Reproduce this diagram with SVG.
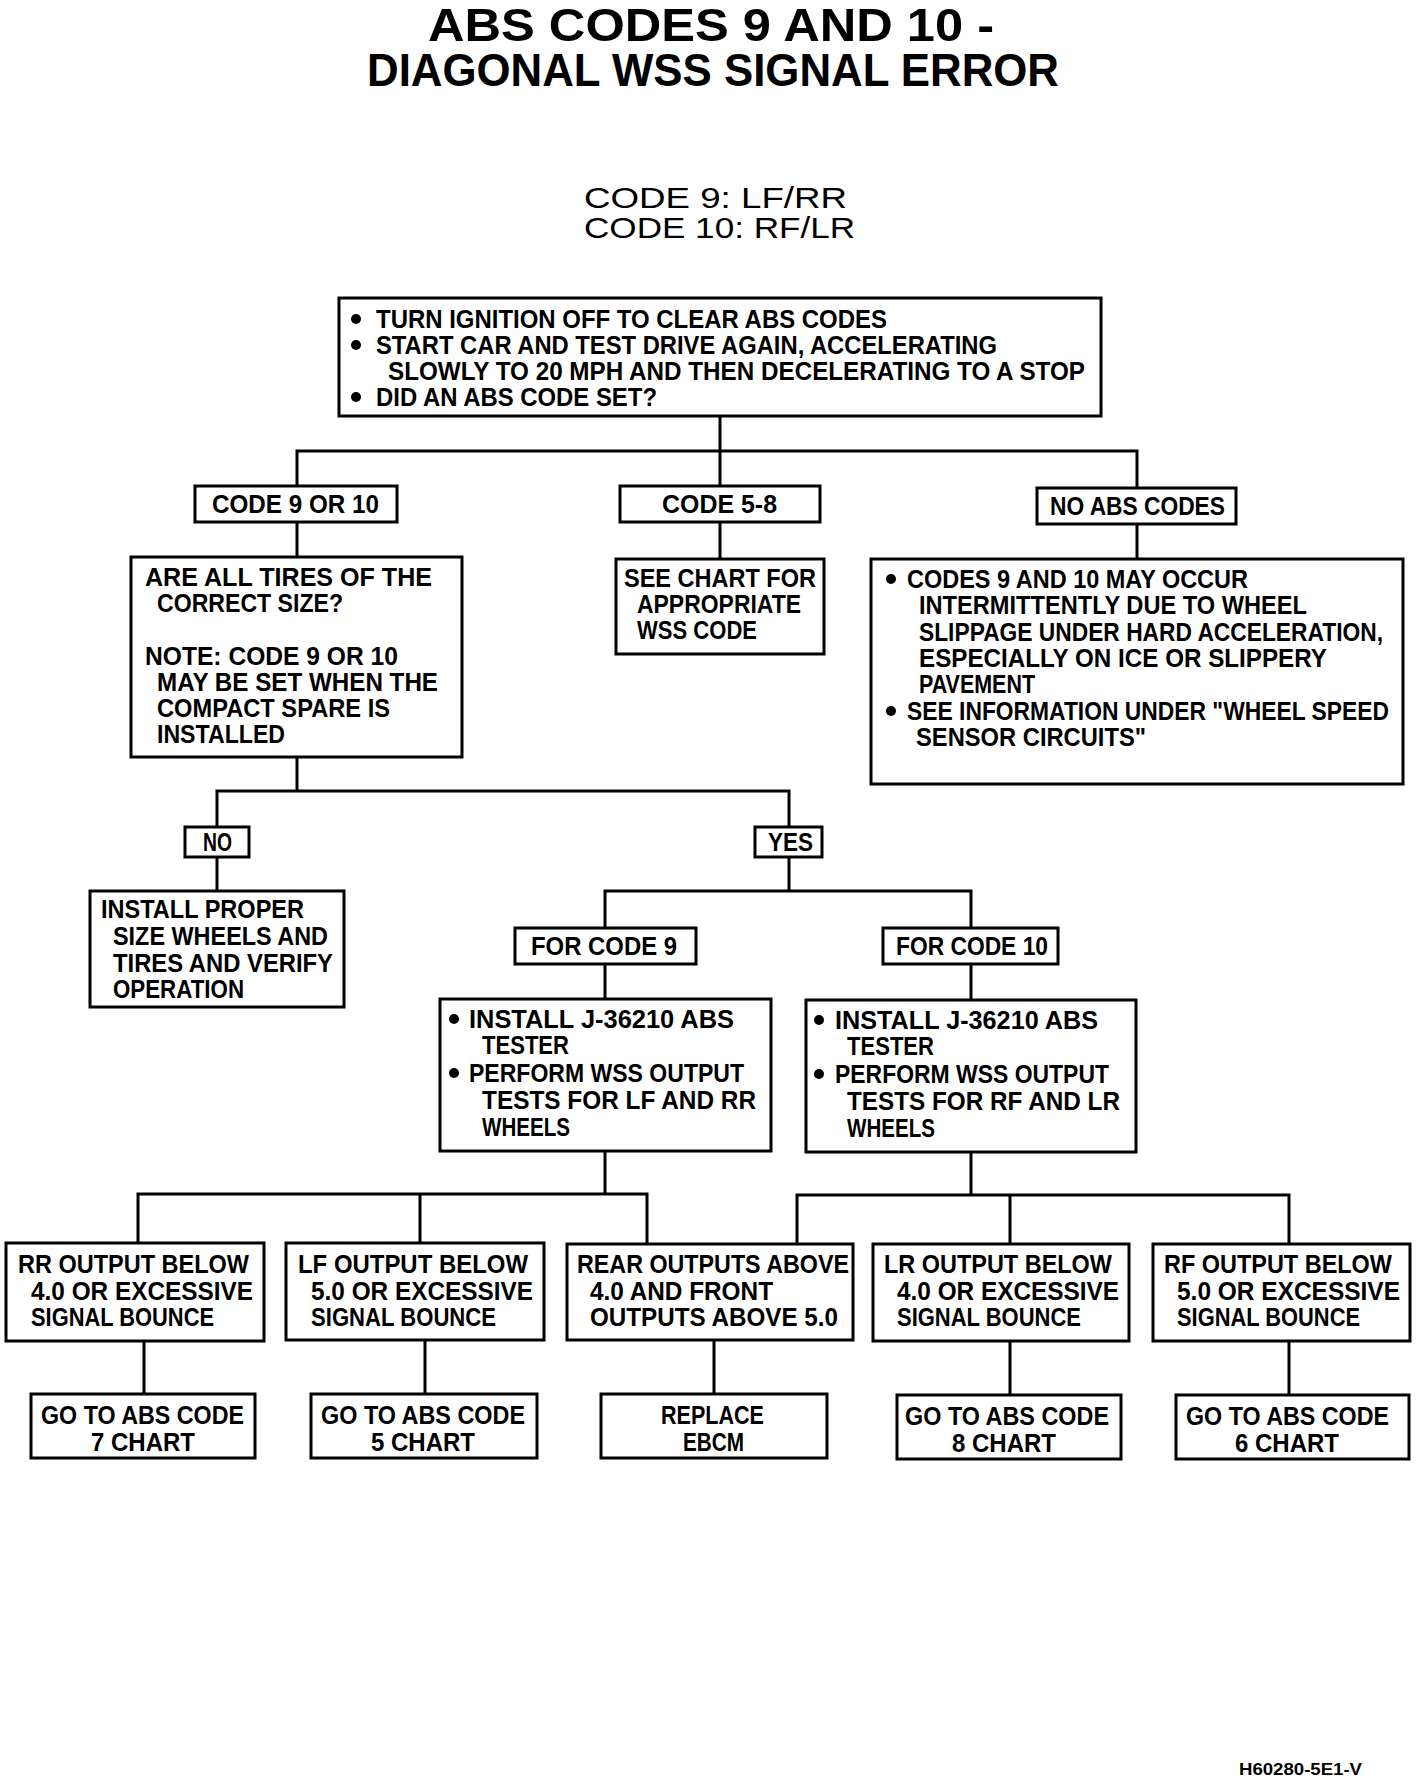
<svg xmlns="http://www.w3.org/2000/svg" width="1424" height="1792" viewBox="0 0 1424 1792">
<style>
.bg{fill:#fff}
.box{fill:#fff;stroke:#000;stroke-width:3}
.ln{fill:none;stroke:#000;stroke-width:3;stroke-linecap:square}
text{font-family:"Liberation Sans",Arial,sans-serif;fill:#000}
.t{font-size:26px;font-weight:bold}
.ttl{font-size:46px;font-weight:bold}
.sub{font-size:29px}
.ft{font-size:16px;font-weight:bold}
.dot{fill:#000}
</style>
<rect class="bg" x="0" y="0" width="1424" height="1792"/>
<g id="title">
<text class="ttl"><tspan x="428" y="41" textLength="566" lengthAdjust="spacingAndGlyphs">ABS CODES 9 AND 10 -</tspan><tspan x="367" y="86" textLength="692" lengthAdjust="spacingAndGlyphs">DIAGONAL WSS SIGNAL ERROR</tspan></text>
</g>
<g id="subtitle">
<text class="sub"><tspan x="584" y="208" textLength="263" lengthAdjust="spacingAndGlyphs">CODE 9: LF/RR</tspan><tspan x="584" y="238" textLength="271" lengthAdjust="spacingAndGlyphs">CODE 10: RF/LR</tspan></text>
</g>
<g id="connectors">
<path class="ln" d="M720 416V486M297 451H1137M297 451V486M1137 451V488"/>
<path class="ln" d="M297 522V557M720 522V559M1137 524V559"/>
<path class="ln" d="M297 757V791M217 791H789M217 791V827M789 791V827"/>
<path class="ln" d="M217 857V891M789 857V891M605 891H971M605 891V928M971 891V928"/>
<path class="ln" d="M605 964V999M971 964V1000"/>
<path class="ln" d="M605 1151V1194M138 1194H647M138 1194V1243M420 1194V1243M647 1194V1244"/>
<path class="ln" d="M971 1152V1195M797 1195H1289M797 1195V1244M1010 1195V1244M1289 1195V1244"/>
<path class="ln" d="M144 1341V1394M425 1340V1394M714 1340V1394M1010 1341V1395M1289 1341V1395"/>
</g>
<g id="start">
<rect class="box" x="339" y="298" width="762" height="118"/>
<circle class="dot" cx="356" cy="319" r="5"/>
<circle class="dot" cx="356" cy="345" r="5"/>
<circle class="dot" cx="356" cy="397" r="5"/>
<text class="t"><tspan x="376" y="328" textLength="511" lengthAdjust="spacingAndGlyphs">TURN IGNITION OFF TO CLEAR ABS CODES</tspan><tspan x="376" y="354" textLength="621" lengthAdjust="spacingAndGlyphs">START CAR AND TEST DRIVE AGAIN, ACCELERATING</tspan><tspan x="388" y="380" textLength="697" lengthAdjust="spacingAndGlyphs">SLOWLY TO 20 MPH AND THEN DECELERATING TO A STOP</tspan><tspan x="376" y="406" textLength="281" lengthAdjust="spacingAndGlyphs">DID AN ABS CODE SET?</tspan></text>
</g>
<g id="code9or10">
<rect class="box" x="195" y="486" width="202" height="36"/>
<text class="t" x="212" y="513" textLength="167" lengthAdjust="spacingAndGlyphs">CODE 9 OR 10</text>
</g>
<g id="code5-8">
<rect class="box" x="620" y="486" width="200" height="36"/>
<text class="t" x="662" y="513" textLength="115" lengthAdjust="spacingAndGlyphs">CODE 5-8</text>
</g>
<g id="noabs">
<rect class="box" x="1037" y="488" width="199" height="36"/>
<text class="t" x="1050" y="515" textLength="175" lengthAdjust="spacingAndGlyphs">NO ABS CODES</text>
</g>
<g id="tires">
<rect class="box" x="131" y="557" width="331" height="200"/>
<text class="t"><tspan x="145" y="586" textLength="287" lengthAdjust="spacingAndGlyphs">ARE ALL TIRES OF THE</tspan><tspan x="157" y="612" textLength="186" lengthAdjust="spacingAndGlyphs">CORRECT SIZE?</tspan><tspan x="145" y="665" textLength="253" lengthAdjust="spacingAndGlyphs">NOTE: CODE 9 OR 10</tspan><tspan x="157" y="691" textLength="281" lengthAdjust="spacingAndGlyphs">MAY BE SET WHEN THE</tspan><tspan x="157" y="717" textLength="233" lengthAdjust="spacingAndGlyphs">COMPACT SPARE IS</tspan><tspan x="157" y="743" textLength="128" lengthAdjust="spacingAndGlyphs">INSTALLED</tspan></text>
</g>
<g id="seechart">
<rect class="box" x="616" y="559" width="208" height="95"/>
<text class="t"><tspan x="624" y="587" textLength="192" lengthAdjust="spacingAndGlyphs">SEE CHART FOR</tspan><tspan x="637" y="613" textLength="164" lengthAdjust="spacingAndGlyphs">APPROPRIATE</tspan><tspan x="637" y="639" textLength="120" lengthAdjust="spacingAndGlyphs">WSS CODE</tspan></text>
</g>
<g id="intermittent">
<rect class="box" x="871" y="559" width="532" height="225"/>
<circle class="dot" cx="891" cy="579" r="5"/>
<circle class="dot" cx="891" cy="711" r="5"/>
<text class="t"><tspan x="907" y="588" textLength="341" lengthAdjust="spacingAndGlyphs">CODES 9 AND 10 MAY OCCUR</tspan><tspan x="919" y="614" textLength="388" lengthAdjust="spacingAndGlyphs">INTERMITTENTLY DUE TO WHEEL</tspan><tspan x="919" y="641" textLength="464" lengthAdjust="spacingAndGlyphs">SLIPPAGE UNDER HARD ACCELERATION,</tspan><tspan x="919" y="667" textLength="408" lengthAdjust="spacingAndGlyphs">ESPECIALLY ON ICE OR SLIPPERY</tspan><tspan x="919" y="693" textLength="116" lengthAdjust="spacingAndGlyphs">PAVEMENT</tspan><tspan x="907" y="720" textLength="482" lengthAdjust="spacingAndGlyphs">SEE INFORMATION UNDER "WHEEL SPEED</tspan><tspan x="916" y="746" textLength="230" lengthAdjust="spacingAndGlyphs">SENSOR CIRCUITS"</tspan></text>
</g>
<g id="no">
<rect class="box" x="185" y="827" width="64" height="30"/>
<text class="t" x="203" y="851" textLength="29" lengthAdjust="spacingAndGlyphs">NO</text>
</g>
<g id="yes">
<rect class="box" x="755" y="827" width="67" height="30"/>
<text class="t" x="768" y="851" textLength="45" lengthAdjust="spacingAndGlyphs">YES</text>
</g>
<g id="installproper">
<rect class="box" x="90" y="891" width="254" height="116"/>
<text class="t"><tspan x="101" y="918" textLength="203" lengthAdjust="spacingAndGlyphs">INSTALL PROPER</tspan><tspan x="113" y="945" textLength="215" lengthAdjust="spacingAndGlyphs">SIZE WHEELS AND</tspan><tspan x="113" y="972" textLength="220" lengthAdjust="spacingAndGlyphs">TIRES AND VERIFY</tspan><tspan x="113" y="998" textLength="131" lengthAdjust="spacingAndGlyphs">OPERATION</tspan></text>
</g>
<g id="forcode9">
<rect class="box" x="515" y="928" width="181" height="36"/>
<text class="t" x="531" y="955" textLength="146" lengthAdjust="spacingAndGlyphs">FOR CODE 9</text>
</g>
<g id="forcode10">
<rect class="box" x="883" y="928" width="175" height="36"/>
<text class="t" x="896" y="955" textLength="152" lengthAdjust="spacingAndGlyphs">FOR CODE 10</text>
</g>
<g id="tester9">
<rect class="box" x="440" y="999" width="331" height="152"/>
<circle class="dot" cx="454" cy="1019" r="5"/>
<circle class="dot" cx="454" cy="1073" r="5"/>
<text class="t"><tspan x="469" y="1028" textLength="265" lengthAdjust="spacingAndGlyphs">INSTALL J-36210 ABS</tspan><tspan x="482" y="1054" textLength="87" lengthAdjust="spacingAndGlyphs">TESTER</tspan><tspan x="469" y="1082" textLength="275" lengthAdjust="spacingAndGlyphs">PERFORM WSS OUTPUT</tspan><tspan x="482" y="1109" textLength="274" lengthAdjust="spacingAndGlyphs">TESTS FOR LF AND RR</tspan><tspan x="482" y="1136" textLength="88" lengthAdjust="spacingAndGlyphs">WHEELS</tspan></text>
</g>
<g id="tester10">
<rect class="box" x="806" y="1000" width="330" height="152"/>
<circle class="dot" cx="819" cy="1020" r="5"/>
<circle class="dot" cx="819" cy="1074" r="5"/>
<text class="t"><tspan x="835" y="1029" textLength="263" lengthAdjust="spacingAndGlyphs">INSTALL J-36210 ABS</tspan><tspan x="847" y="1055" textLength="87" lengthAdjust="spacingAndGlyphs">TESTER</tspan><tspan x="835" y="1083" textLength="274" lengthAdjust="spacingAndGlyphs">PERFORM WSS OUTPUT</tspan><tspan x="847" y="1110" textLength="273" lengthAdjust="spacingAndGlyphs">TESTS FOR RF AND LR</tspan><tspan x="847" y="1137" textLength="88" lengthAdjust="spacingAndGlyphs">WHEELS</tspan></text>
</g>
<g id="rr">
<rect class="box" x="6" y="1243" width="258" height="98"/>
<text class="t"><tspan x="18" y="1273" textLength="231" lengthAdjust="spacingAndGlyphs">RR OUTPUT BELOW</tspan><tspan x="31" y="1300" textLength="222" lengthAdjust="spacingAndGlyphs">4.0 OR EXCESSIVE</tspan><tspan x="31" y="1326" textLength="183" lengthAdjust="spacingAndGlyphs">SIGNAL BOUNCE</tspan></text>
</g>
<g id="lf">
<rect class="box" x="286" y="1243" width="258" height="97"/>
<text class="t"><tspan x="298" y="1273" textLength="230" lengthAdjust="spacingAndGlyphs">LF OUTPUT BELOW</tspan><tspan x="311" y="1300" textLength="222" lengthAdjust="spacingAndGlyphs">5.0 OR EXCESSIVE</tspan><tspan x="311" y="1326" textLength="185" lengthAdjust="spacingAndGlyphs">SIGNAL BOUNCE</tspan></text>
</g>
<g id="rear">
<rect class="box" x="567" y="1244" width="286" height="96"/>
<text class="t"><tspan x="577" y="1273" textLength="272" lengthAdjust="spacingAndGlyphs">REAR OUTPUTS ABOVE</tspan><tspan x="590" y="1300" textLength="183" lengthAdjust="spacingAndGlyphs">4.0 AND FRONT</tspan><tspan x="590" y="1326" textLength="248" lengthAdjust="spacingAndGlyphs">OUTPUTS ABOVE 5.0</tspan></text>
</g>
<g id="lr">
<rect class="box" x="873" y="1244" width="256" height="97"/>
<text class="t"><tspan x="884" y="1273" textLength="228" lengthAdjust="spacingAndGlyphs">LR OUTPUT BELOW</tspan><tspan x="897" y="1300" textLength="222" lengthAdjust="spacingAndGlyphs">4.0 OR EXCESSIVE</tspan><tspan x="897" y="1326" textLength="184" lengthAdjust="spacingAndGlyphs">SIGNAL BOUNCE</tspan></text>
</g>
<g id="rf">
<rect class="box" x="1153" y="1244" width="257" height="97"/>
<text class="t"><tspan x="1164" y="1273" textLength="228" lengthAdjust="spacingAndGlyphs">RF OUTPUT BELOW</tspan><tspan x="1177" y="1300" textLength="223" lengthAdjust="spacingAndGlyphs">5.0 OR EXCESSIVE</tspan><tspan x="1177" y="1326" textLength="183" lengthAdjust="spacingAndGlyphs">SIGNAL BOUNCE</tspan></text>
</g>
<g id="go7">
<rect class="box" x="31" y="1394" width="224" height="64"/>
<text class="t"><tspan x="41" y="1424" textLength="203" lengthAdjust="spacingAndGlyphs">GO TO ABS CODE</tspan><tspan x="91" y="1451" textLength="104" lengthAdjust="spacingAndGlyphs">7 CHART</tspan></text>
</g>
<g id="go5">
<rect class="box" x="311" y="1394" width="226" height="64"/>
<text class="t"><tspan x="321" y="1424" textLength="204" lengthAdjust="spacingAndGlyphs">GO TO ABS CODE</tspan><tspan x="371" y="1451" textLength="104" lengthAdjust="spacingAndGlyphs">5 CHART</tspan></text>
</g>
<g id="replace">
<rect class="box" x="601" y="1394" width="226" height="64"/>
<text class="t"><tspan x="661" y="1424" textLength="103" lengthAdjust="spacingAndGlyphs">REPLACE</tspan><tspan x="683" y="1451" textLength="61" lengthAdjust="spacingAndGlyphs">EBCM</tspan></text>
</g>
<g id="go8">
<rect class="box" x="897" y="1395" width="224" height="64"/>
<text class="t"><tspan x="905" y="1425" textLength="204" lengthAdjust="spacingAndGlyphs">GO TO ABS CODE</tspan><tspan x="952" y="1452" textLength="104" lengthAdjust="spacingAndGlyphs">8 CHART</tspan></text>
</g>
<g id="go6">
<rect class="box" x="1176" y="1395" width="233" height="64"/>
<text class="t"><tspan x="1186" y="1425" textLength="203" lengthAdjust="spacingAndGlyphs">GO TO ABS CODE</tspan><tspan x="1235" y="1452" textLength="104" lengthAdjust="spacingAndGlyphs">6 CHART</tspan></text>
</g>
<g id="footer">
<text class="ft" x="1239" y="1775" textLength="123" lengthAdjust="spacingAndGlyphs">H60280-5E1-V</text>
</g>
</svg>
